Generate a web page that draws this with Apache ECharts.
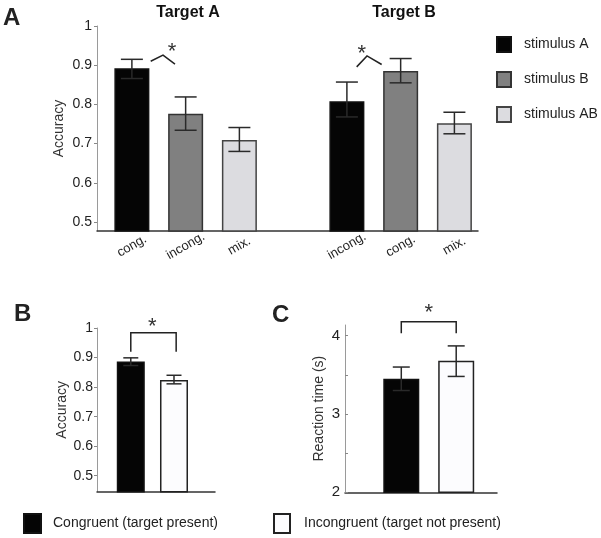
<!DOCTYPE html>
<html>
<head>
<meta charset="utf-8">
<script src="https://cdn.jsdelivr.net/npm/echarts@6/dist/echarts.min.js"></script>
<style>
html,body{margin:0;padding:0;background:#fff;}
#chart{width:601px;height:538px;}
</style>
</head>
<body>
<div id="chart"></div>
<script>
// ---------- Panel A data ----------
const POS_A = [0, 1, 2, 4, 5, 6];
const LABELS_A = ['cong.', 'incong.', 'mix.', 'incong.', 'cong.', 'mix.'];
const STIM_A_POS = [0, 4];
const STIM_A = [0.892, 0.808];
const STIM_B_POS = [1, 5];
const STIM_B = [0.776, 0.885];
const STIM_AB_POS = [2, 6];
const STIM_AB = [0.709, 0.752];
const ERR_A_LOW = [0.866, 0.734, 0.680, 0.768, 0.855, 0.725];
const ERR_A_HIGH = [0.915, 0.819, 0.741, 0.857, 0.917, 0.780];
const TICKS_A = [0.5, 0.6, 0.7, 0.8, 0.9, 1];
const TITLES_A = ['Target A', 'Target B'];
const LEGEND_A = ['stimulus A', 'stimulus B', 'stimulus AB'];

// ---------- Panel B data ----------
const POS_BC = [0, 1];
const ACC = [0.887, 0.824];
const ACC_LOW = [0.873, 0.811];
const ACC_HIGH = [0.899, 0.840];
const TICKS_B = [0.5, 0.6, 0.7, 0.8, 0.9, 1];

// ---------- Panel C data ----------
const RT = [3.45, 3.68];
const RT_LOW = [3.30, 3.48];
const RT_HIGH = [3.60, 3.87];
const TICKS_C = [2, 2.5, 3, 3.5, 4];
const LABELS_C = [2, 3, 4];

const COND_NAMES = ['Congruent (target present)', 'Incongruent (target not present)'];

// significance annotations (data coordinates)
const SIG_A1 = [[0.35, 0.910], [0.579, 0.9255], [0.802, 0.9026]];
const SIG_A1_STAR = [0.746, 0.946];
const SIG_A2 = [[4.182, 0.8957], [4.374, 0.9237], [4.647, 0.9018]];
const SIG_A2_STAR = [4.275, 0.941];
const SIG_B = [[0, 0.920], [0, 0.9836], [1.05, 0.9836], [1.05, 0.920]];
const SIG_B_STAR = [0.5, 1.0195];
const SIG_C = [[0, 4.031], [0, 4.179], [1, 4.179], [1, 4.031]];
const SIG_C_STAR = [0.5, 4.354];

const FONT = '"Liberation Sans", Arial, Helvetica, sans-serif';
const chart = echarts.init(document.getElementById('chart'), null, {renderer: 'canvas'});

function pairs(xs, ys) { return xs.map((x, i) => [x, ys[i]]); }

function errSeries(xi, yi, xs, lo, hi, cap) {
  return {
    type: 'custom', xAxisIndex: xi, yAxisIndex: yi, z: 5, silent: true, clip: false,
    data: xs.map((x, i) => [x, lo[i], hi[i]]),
    renderItem: function (params, api) {
      const x = api.value(0);
      const pH = api.coord([x, api.value(2)]);
      const pL = api.coord([x, api.value(1)]);
      const st = {stroke: '#2a2a2a', lineWidth: 1.5};
      return {
        type: 'group', children: [
          {type: 'line', shape: {x1: pH[0], y1: pH[1], x2: pL[0], y2: pL[1]}, style: st},
          {type: 'line', shape: {x1: pH[0] - cap / 2, y1: pH[1], x2: pH[0] + cap / 2, y2: pH[1]}, style: st},
          {type: 'line', shape: {x1: pL[0] - cap / 2, y1: pL[1], x2: pL[0] + cap / 2, y2: pL[1]}, style: st}
        ]
      };
    }
  };
}

function sigSeries(xi, yi, pts, star) {
  return {
    type: 'custom', xAxisIndex: xi, yAxisIndex: yi, z: 6, silent: true, clip: false,
    data: [0],
    renderItem: function (params, api) {
      const p = pts.map(q => api.coord(q));
      const s = api.coord(star);
      return {
        type: 'group', children: [
          {type: 'polyline', shape: {points: p}, style: {stroke: '#222', lineWidth: 1.5, fill: null}},
          {type: 'text', x: s[0], y: s[1] + 5, style: {text: '*', fill: '#333', font: '22px ' + FONT, align: 'center', verticalAlign: 'middle'}}
        ]
      };
    }
  };
}

const yAxisBase = {
  type: 'value',
  axisLine: {show: true, onZero: false, lineStyle: {color: '#9a9a9a', width: 1}},
  splitLine: {show: false},
  nameLocation: 'middle',
  nameRotate: 90,
  nameMoveOverlap: false,
  nameTextStyle: {fontSize: 14, color: '#333', fontFamily: FONT}
};
const xAxisBase = {
  type: 'value',
  axisLine: {show: true, onZero: false, lineStyle: {color: '#333', width: 1.5}},
  splitLine: {show: false},
  axisTick: {show: false},
  axisLabel: {show: false}
};

const option = {
  animation: false,
  backgroundColor: '#fff',
  textStyle: {fontFamily: FONT},
  grid: [
    {left: 97, top: 26, width: 381, height: 205},
    {left: 97, top: 328, width: 118, height: 163.7},
    {left: 345, top: 325, width: 152, height: 167.3}
  ],
  xAxis: [
    Object.assign({}, xAxisBase, {
      gridIndex: 0, min: -0.649, max: 6.439,
      axisLabel: {
        show: true, customValues: POS_A, rotate: 30, align: 'center', verticalAlign: 'middle',
        margin: 15, fontSize: 13, color: '#222',
        formatter: v => LABELS_A[POS_A.indexOf(Math.round(v))]
      }
    }),
    Object.assign({}, xAxisBase, {gridIndex: 1, min: -0.782, max: 1.949}),
    Object.assign({}, xAxisBase, {gridIndex: 2, min: -1.025, max: 1.743})
  ],
  yAxis: [
    Object.assign({}, yAxisBase, {
      gridIndex: 0, min: 0.477, max: 1, name: 'Accuracy', nameGap: 31,
      axisTick: {show: true, customValues: TICKS_A, length: 3, lineStyle: {color: '#888'}},
      axisLabel: {customValues: TICKS_A, fontSize: 14, color: '#222', margin: 5,
        formatter: v => (Math.abs(v - 1) < 1e-9 ? '1' : v.toFixed(1))}
    }),
    Object.assign({}, yAxisBase, {
      gridIndex: 1, min: 0.446, max: 1, name: 'Accuracy', nameGap: 28,
      axisTick: {show: true, customValues: TICKS_B, length: 3, lineStyle: {color: '#888'}},
      axisLabel: {customValues: TICKS_B, fontSize: 14, color: '#222', margin: 4,
        formatter: v => (Math.abs(v - 1) < 1e-9 ? '1' : v.toFixed(1))}
    }),
    Object.assign({}, yAxisBase, {
      gridIndex: 2, min: 2, max: 4.137, name: 'Reaction time (s)', nameGap: 19,
      axisTick: {show: true, inside: true, customValues: TICKS_C, length: 3, lineStyle: {color: '#888'}},
      axisLabel: {customValues: LABELS_C, fontSize: 15, color: '#222', margin: 5,
        formatter: v => String(Math.round(v))}
    })
  ],
  legend: [
    {data: LEGEND_A, orient: 'vertical', left: 496, top: 36, padding: 0, itemWidth: 14, itemHeight: 15, itemGap: 18,
      icon: 'rect', selectedMode: false,
      textStyle: {fontSize: 14, color: '#222', padding: [0, 0, 0, 8]}},
    {data: [COND_NAMES[0]], left: 23, top: 513, padding: 0, itemWidth: 17, itemHeight: 19, icon: 'rect', selectedMode: false,
      textStyle: {fontSize: 14, color: '#222', padding: [0, 0, 0, 7]}},
    {data: [COND_NAMES[1]], left: 273, top: 513, padding: 0, itemWidth: 16, itemHeight: 19, icon: 'rect', selectedMode: false,
      textStyle: {fontSize: 14, color: '#222', padding: [0, 0, 0, 9]}}
  ],
  graphic: [
    {type: 'text', left: 3, top: 6, style: {text: 'A', font: 'bold 24px ' + FONT, fill: '#222'}},
    {type: 'text', left: 14, top: 302, style: {text: 'B', font: 'bold 24px ' + FONT, fill: '#222'}},
    {type: 'text', left: 272, top: 303, style: {text: 'C', font: 'bold 24px ' + FONT, fill: '#222'}},
    {type: 'text', x: 188, y: 13, style: {text: TITLES_A[0], font: 'bold 16px ' + FONT, fill: '#111', align: 'center', verticalAlign: 'middle'}},
    {type: 'text', x: 404, y: 13, style: {text: TITLES_A[1], font: 'bold 16px ' + FONT, fill: '#111', align: 'center', verticalAlign: 'middle'}}
  ],
  series: [
    {name: LEGEND_A[0], type: 'bar', xAxisIndex: 0, yAxisIndex: 0, barWidth: 35, barGap: '-100%',
      data: pairs(STIM_A_POS, STIM_A), itemStyle: {color: '#050505', borderColor: '#111', borderWidth: 1.5}},
    {name: LEGEND_A[1], type: 'bar', xAxisIndex: 0, yAxisIndex: 0, barWidth: 35, barGap: '-100%',
      data: pairs(STIM_B_POS, STIM_B), itemStyle: {color: '#808080', borderColor: '#333', borderWidth: 1.5}},
    {name: LEGEND_A[2], type: 'bar', xAxisIndex: 0, yAxisIndex: 0, barWidth: 35, barGap: '-100%',
      data: pairs(STIM_AB_POS, STIM_AB), itemStyle: {color: '#dcdce0', borderColor: '#444', borderWidth: 1.5}},
    errSeries(0, 0, POS_A, ERR_A_LOW, ERR_A_HIGH, 22),
    sigSeries(0, 0, SIG_A1, SIG_A1_STAR),
    sigSeries(0, 0, SIG_A2, SIG_A2_STAR),

    {name: COND_NAMES[0], type: 'bar', xAxisIndex: 1, yAxisIndex: 1, barWidth: 28, barGap: '-100%',
      data: [[POS_BC[0], ACC[0]]], itemStyle: {color: '#050505', borderColor: '#111', borderWidth: 1.5}},
    {name: COND_NAMES[1], type: 'bar', xAxisIndex: 1, yAxisIndex: 1, barWidth: 28, barGap: '-100%',
      data: [[POS_BC[1], ACC[1]]], itemStyle: {color: '#fcfcfe', borderColor: '#222', borderWidth: 1.5}},
    errSeries(1, 1, POS_BC, ACC_LOW, ACC_HIGH, 15),
    sigSeries(1, 1, SIG_B, SIG_B_STAR),

    {name: COND_NAMES[0], type: 'bar', xAxisIndex: 2, yAxisIndex: 2, barWidth: 36, barGap: '-100%',
      data: [[POS_BC[0], RT[0]]], itemStyle: {color: '#050505', borderColor: '#111', borderWidth: 1.5}},
    {name: COND_NAMES[1], type: 'bar', xAxisIndex: 2, yAxisIndex: 2, barWidth: 36, barGap: '-100%',
      data: [[POS_BC[1], RT[1]]], itemStyle: {color: '#fcfcfe', borderColor: '#222', borderWidth: 1.5}},
    errSeries(2, 2, POS_BC, RT_LOW, RT_HIGH, 17),
    sigSeries(2, 2, SIG_C, SIG_C_STAR)
  ]
};
chart.setOption(option);
</script>
</body>
</html>
